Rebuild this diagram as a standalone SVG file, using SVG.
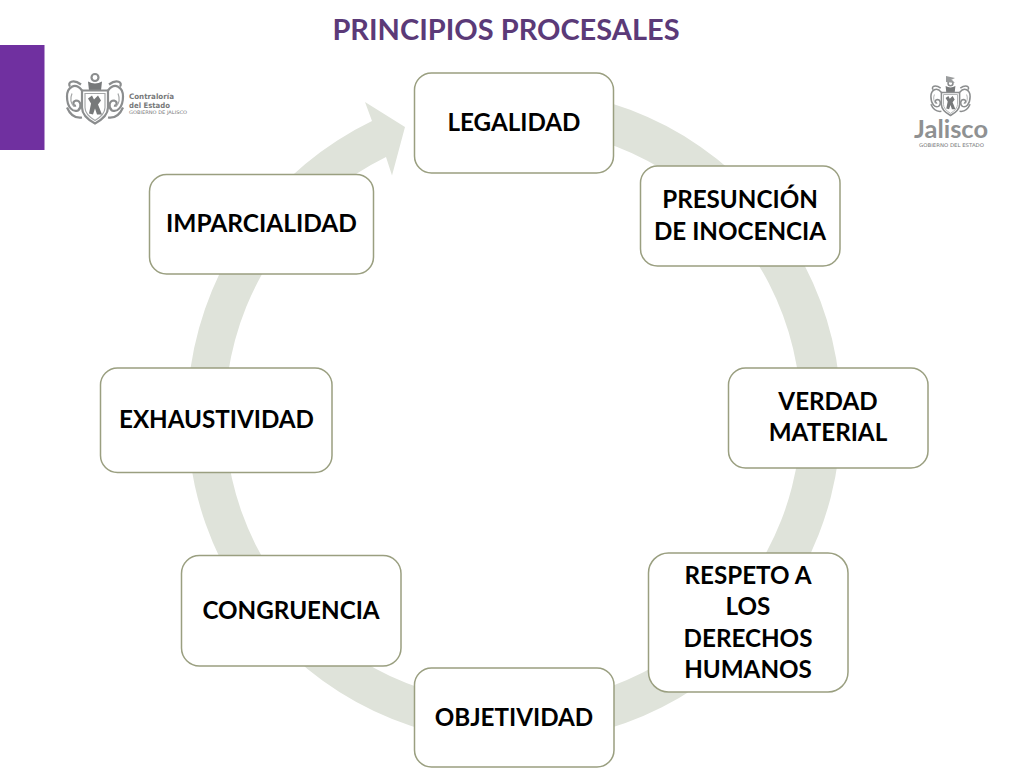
<svg xmlns="http://www.w3.org/2000/svg" width="1024" height="768" viewBox="0 0 1024 768">
<style>
text{font-family:"Lato","Liberation Sans",sans-serif}
.box{fill:#fff;stroke:#9a9f80;stroke-width:1.5}
.lbl{font-size:24.200px;font-weight:700;fill:#000;text-anchor:middle}
.ln{fill:none;stroke:#8b8d8e;stroke-width:2.200}
.thin{fill:none;stroke:#a5a7a8;stroke-width:1.200}
.dk{fill:#77797a}
.lg{font-family:"DejaVu Sans",sans-serif;fill:#77797a}
</style>
<defs>
<filter id="soft" x="-5%" y="-5%" width="110%" height="110%"><feGaussianBlur stdDeviation="0.400"/></filter>
<g id="crest">
<circle cx="0" cy="-21" r="3.500" class="ln"/>
<path d="M-7,-17 Q0,-13 7,-17 L6,-8 L-6,-8Z" class="dk"/>
<path d="M-13,-8 L13,-8 L13,9 Q13,18 0,25 Q-13,18 -13,9Z" class="ln"/>
<path d="M-10,-5 L10,-5 L10,9 Q10,16 0,22 Q-10,16 -10,9Z" class="thin"/>
<path d="M-6,15 L-4,5 L-7,0 L-3,-3 L-1,1 L3,-3 L6,2 L3,6 L7,16 L2,16 L0,10 L-2,16Z" class="dk"/>
<path d="M-13,-8 C-20,-17 -28,-11 -28,-2 C-28,9 -22,14 -17,12 C-13,9 -14,2 -19,2 C-23,3 -22,8 -19,7" class="ln"/>
<path d="M-13,19 C-20,20 -25,16 -28,9 M-14,-14 C-22,-20 -28,-16 -25,-12" class="ln"/>
<path d="M-23,-5 C-25,0 -24,5 -21,8" class="thin"/>
<path d="M13,-8 C20,-17 28,-11 28,-2 C28,9 22,14 17,12 C13,9 14,2 19,2 C23,3 22,8 19,7" class="ln"/>
<path d="M13,19 C20,20 25,16 28,9 M14,-14 C22,-20 28,-16 25,-12" class="ln"/>
<path d="M23,-5 C25,0 24,5 21,8" class="thin"/>
</g>
</defs>
<rect width="1024" height="768" fill="#fff"/>
<rect x="0" y="45" width="44.500" height="105" fill="#7030a0"/>
<text x="506" y="39.500" text-anchor="middle" font-size="29" font-weight="700" fill="#5b3a78">PRINCIPIOS PROCESALES</text>
<g id="logo-contraloria">
<use href="#crest" x="95" y="98.500" filter="url(#soft)"/>
<text class="lg" x="129" y="99" font-size="7.500" font-weight="700" textLength="45" lengthAdjust="spacingAndGlyphs">Contraloría</text>
<text class="lg" x="129" y="107.500" font-size="7.500" font-weight="700" textLength="41" lengthAdjust="spacingAndGlyphs">del Estado</text>
<text class="lg" x="129" y="114" font-size="4.800" textLength="58" lengthAdjust="spacingAndGlyphs">GOBIERNO DE JALISCO</text>
</g>
<g id="logo-jalisco">
<use href="#crest" transform="translate(950.500 98) scale(.7)" filter="url(#soft)"/>
<path d="M946,76 L955,78 L951,80 L955,83 L946,82Z" fill="#9a9c9d"/>
<text x="951" y="138" text-anchor="middle" font-size="24" font-weight="700" fill="#8f9192" textLength="74" lengthAdjust="spacingAndGlyphs">Jalisco</text>
<text class="lg" x="951.500" y="147" text-anchor="middle" font-size="5" textLength="65" lengthAdjust="spacingAndGlyphs">GOBIERNO DEL ESTADO</text>
</g>
<g id="connectors">
<path id="ring" fill="#dfe3da" d="M513.500,88.500 A327,327 0 1 1 372,121 L365,102 L405,127 L392,175.500 L386,157 A288,288 0 1 0 513.500,127.500Z"/>
</g>
<g id="legalidad"><rect class="box" x="414.500" y="73" width="199" height="100" rx="17"/><text class="lbl" x="514" y="131">LEGALIDAD</text></g>
<g id="presuncion"><rect class="box" x="640.500" y="166" width="199.500" height="100" rx="17"/><text class="lbl" x="740" y="208">PRESUNCIÓN</text><text class="lbl" x="740" y="240">DE INOCENCIA</text></g>
<g id="verdad"><rect class="box" x="728.500" y="368" width="199.500" height="100" rx="17"/><text class="lbl" x="828" y="410">VERDAD</text><text class="lbl" x="828" y="441">MATERIAL</text></g>
<g id="respeto"><rect class="box" x="648.500" y="553" width="199.500" height="139" rx="20"/><text class="lbl" x="748" y="583.500">RESPETO A</text><text class="lbl" x="748" y="615">LOS</text><text class="lbl" x="748" y="647">DERECHOS</text><text class="lbl" x="748" y="678">HUMANOS</text></g>
<g id="objetividad"><rect class="box" x="414.500" y="668" width="199.500" height="99" rx="17"/><text class="lbl" x="514" y="726">OBJETIVIDAD</text></g>
<g id="congruencia"><rect class="box" x="181.500" y="555.500" width="219.500" height="110.500" rx="18"/><text class="lbl" x="291" y="619">CONGRUENCIA</text></g>
<g id="exhaustividad"><rect class="box" x="100.500" y="368" width="231.500" height="104.500" rx="17"/><text class="lbl" x="216.500" y="428">EXHAUSTIVIDAD</text></g>
<g id="imparcialidad"><rect class="box" x="149.500" y="174.500" width="224" height="99.500" rx="17"/><text class="lbl" x="261.500" y="232" textLength="191" lengthAdjust="spacingAndGlyphs">IMPARCIALIDAD</text></g>
</svg>
